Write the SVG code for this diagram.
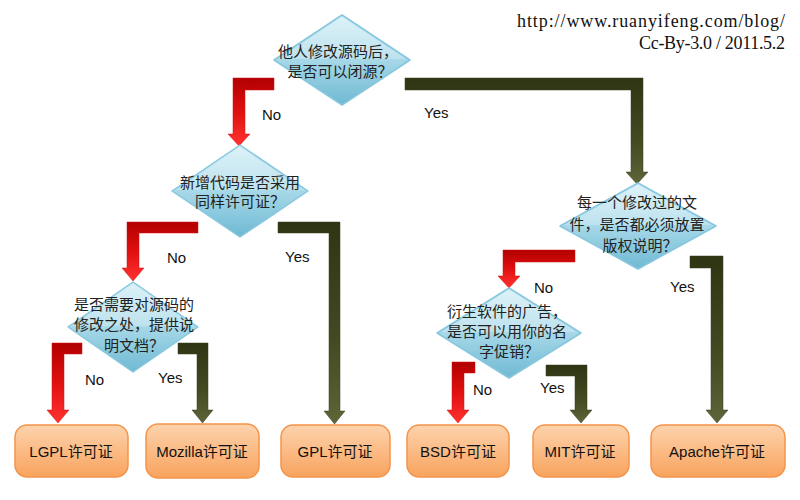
<svg xmlns="http://www.w3.org/2000/svg" width="800" height="500" viewBox="0 0 800 500">
<defs>
<linearGradient id="gDia" x1="0" y1="0" x2="0" y2="1">
<stop offset="0" stop-color="#d3eef7"/>
<stop offset="0.5" stop-color="#a6d8e8"/>
<stop offset="1" stop-color="#6fb9d3"/>
</linearGradient>
<linearGradient id="gBox" x1="0" y1="0" x2="0" y2="1">
<stop offset="0" stop-color="#fdd3ad"/>
<stop offset="0.5" stop-color="#fbbb85"/>
<stop offset="1" stop-color="#f8a35e"/>
</linearGradient>
<linearGradient id="gRed" x1="0" y1="0" x2="0" y2="1">
<stop offset="0" stop-color="#b20000"/>
<stop offset="0.5" stop-color="#e01010"/>
<stop offset="1" stop-color="#ff3232"/>
</linearGradient>
<linearGradient id="gDark" x1="0" y1="0" x2="0" y2="1">
<stop offset="0" stop-color="#2f3413"/>
<stop offset="0.6" stop-color="#444a22"/>
<stop offset="1" stop-color="#5e6538"/>
</linearGradient>
<style>
.dia{fill:url(#gDia);stroke:#86c7de;stroke-width:1.5;stroke-linejoin:round}
.box{fill:url(#gBox);stroke:#f4944a;stroke-width:1.5}
.red{fill:url(#gRed);stroke:#d01010;stroke-width:0.5}
.dark{fill:url(#gDark);stroke:#3a4020;stroke-width:0.5}
.dt{font-family:"Noto Sans CJK SC","Liberation Sans",sans-serif;font-size:15px;fill:#222;text-anchor:middle}
.bt{font-family:"Liberation Sans","Noto Sans CJK SC",sans-serif;font-size:15px;fill:#111;text-anchor:middle}
.lb{font-family:"Liberation Sans",Arial,sans-serif;font-size:15px;fill:#111}
.hd{font-family:"Liberation Serif","DejaVu Serif",serif;font-size:18px;fill:#111;text-anchor:end}
</style>
</defs>
<rect width="800" height="500" fill="#ffffff"/>

<g id="connectors">
<polygon class="red" points="274,78 233,78 233,134 228,134 239,146 250,134 245,134 245,90 274,90"/>
<polygon class="dark" points="405,78 643,78 643,172 648,172 637,184 626,172 631,172 631,90 405,90"/>
<polygon class="red" points="198,222 127,222 127,268 122,268 133,281 144,268 139,268 139,233 198,233"/>
<polygon class="dark" points="278,222 340,222 340,411 345,411 334.5,424 324,411 329,411 329,233 278,233"/>
<polygon class="red" points="82,343 52,343 52,410 47,410 58,423 69,410 64,410 64,354 82,354"/>
<polygon class="dark" points="178,343 208,343 208,410 213,410 202.5,423 192,410 197,410 197,354 178,354"/>
<polygon class="red" points="575,250 503,250 503,276 498,276 509,288 520,276 515,276 515,262 575,262"/>
<polygon class="dark" points="690,256 723,256 723,410 728,410 717,423 706,410 711,410 711,268 690,268"/>
<polygon class="red" points="475,362 452,362 452,410 447,410 458,423 469,410 464,410 464,373 475,373"/>
<polygon class="dark" points="546,365 587,365 587,410 592,410 581,423 570,410 575,410 575,376 546,376"/>
<text class="lb" x="262" y="120">No</text>
<text class="lb" x="424" y="118">Yes</text>
<text class="lb" x="167" y="263">No</text>
<text class="lb" x="285" y="262">Yes</text>
<text class="lb" x="85" y="385">No</text>
<text class="lb" x="158" y="383">Yes</text>
<text class="lb" x="534" y="293">No</text>
<text class="lb" x="670" y="292">Yes</text>
<text class="lb" x="473" y="395">No</text>
<text class="lb" x="540" y="393">Yes</text>
</g>

<g id="d1">
<polygon class="dia" points="342,15 410,60 342,105 274,60"/>
<polygon points="342,17 406,59 278,59" fill="#ffffff" opacity="0.25"/>
<text class="dt" x="338" y="57">他人修改源码后，</text>
<text class="dt" x="340" y="77">是否可以闭源？</text>
</g>

<g id="d2">
<polygon class="dia" points="240,145 308,191 240,237 172,191"/>
<polygon points="240,147 304,190 176,190" fill="#ffffff" opacity="0.25"/>
<text class="dt" x="240" y="188">新增代码是否采用</text>
<text class="dt" x="240" y="207">同样许可证？</text>
</g>

<g id="d3">
<polygon class="dia" points="133,282 198,327 133,372 68,327"/>
<polygon points="133,284 194,326 72,326" fill="#ffffff" opacity="0.25"/>
<text class="dt" x="134" y="310">是否需要对源码的</text>
<text class="dt" x="134" y="330">修改之处，提供说</text>
<text class="dt" x="134" y="351">明文档？</text>
</g>

<g id="d4">
<polygon class="dia" points="638,183 716,226 638,269 560,226"/>
<polygon points="638,185 712,225 564,225" fill="#ffffff" opacity="0.25"/>
<text class="dt" x="637" y="208">每一个修改过的文</text>
<text class="dt" x="637" y="230">件，是否都必须放置</text>
<text class="dt" x="640" y="251">版权说明？</text>
</g>

<g id="d5">
<polygon class="dia" points="509,288 581,333 509,378 437,333"/>
<polygon points="509,290 577,332 441,332" fill="#ffffff" opacity="0.25"/>
<text class="dt" x="507" y="317">衍生软件的广告，</text>
<text class="dt" x="507" y="337">是否可以用你的名</text>
<text class="dt" x="509" y="357">字促销？</text>
</g>

<g id="lgpl">
<rect class="box" x="15" y="425" width="113" height="52" rx="12"/>
<text class="bt" x="71" y="457">LGPL许可证</text>
</g>
<g id="mozilla">
<rect class="box" x="146" y="424" width="113" height="54" rx="12"/>
<text class="bt" x="202" y="457">Mozilla许可证</text>
</g>
<g id="gpl">
<rect class="box" x="281" y="425" width="109" height="52" rx="12"/>
<text class="bt" x="335" y="457">GPL许可证</text>
</g>
<g id="bsd">
<rect class="box" x="407" y="425" width="102" height="52" rx="12"/>
<text class="bt" x="458" y="457">BSD许可证</text>
</g>
<g id="mit">
<rect class="box" x="533" y="425" width="96" height="52" rx="12"/>
<text class="bt" x="580" y="457">MIT许可证</text>
</g>
<g id="apache">
<rect class="box" x="651" y="425" width="134" height="52" rx="12"/>
<text class="bt" x="717" y="457">Apache许可证</text>
</g>

<g id="credit">
<text class="hd" x="785" y="27" textLength="268" lengthAdjust="spacing">http://www.ruanyifeng.com/blog/</text>
<text class="hd" x="785" y="49" textLength="146" lengthAdjust="spacing">Cc-By-3.0 / 2011.5.2</text>
</g>
</svg>
